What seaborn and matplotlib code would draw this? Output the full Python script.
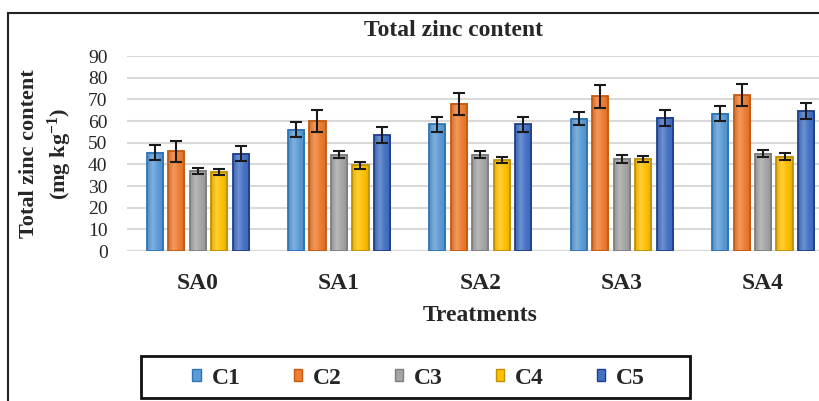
import numpy as np
import pandas as pd
import seaborn as sns
import matplotlib
matplotlib.use("Agg")
import matplotlib.pyplot as plt
from matplotlib.patches import Rectangle
from matplotlib.colors import LinearSegmentedColormap, to_rgb

# values
treatments = ["SA0", "SA1", "SA2", "SA3", "SA4"]
series = ["C1", "C2", "C3", "C4", "C5"]
c1 = [45.5, 56.0, 58.5, 61.0, 63.5]
c2 = [46.0, 60.0, 68.0, 71.5, 72.0]
c3 = [37.0, 44.5, 44.5, 42.5, 45.0]
c4 = [36.5, 39.5, 42.0, 42.5, 43.5]
c5 = [45.0, 53.5, 58.5, 61.5, 64.5]
c1_err = [3.3, 3.5, 3.5, 3.0, 3.3]
c2_err = [5.0, 5.2, 5.2, 5.3, 5.2]
c3_err = [1.5, 1.5, 1.7, 1.7, 1.7]
c4_err = [1.2, 1.4, 1.5, 1.5, 1.6]
c5_err = [3.6, 3.8, 3.6, 3.8, 3.7]

colors = ["#5B9BD5", "#ED7D31", "#A5A5A5", "#FFC000", "#4472C4"]
edges = ["#2E75B6", "#C55A11", "#7F7F7F", "#BF9000", "#203F8A"]

vals = [c1, c2, c3, c4, c5]
errs = [c1_err, c2_err, c3_err, c4_err, c5_err]
df = pd.DataFrame({
    "Treatment": np.tile(treatments, len(series)),
    "Series": np.repeat(series, len(treatments)),
    "Value": np.concatenate(vals),
})

sns.set_style("white")
plt.rcParams["font.family"] = ["Liberation Serif", "DejaVu Serif"]
plt.rcParams["mathtext.fontset"] = "custom"
plt.rcParams["mathtext.rm"] = "Liberation Serif:bold"
plt.rcParams["mathtext.default"] = "rm"

fig = plt.figure(figsize=(8.19, 4.01), dpi=100)
ax = fig.add_axes([0.155, 0.374, 0.863, 0.486])

sns.barplot(data=df, x="Treatment", y="Value", hue="Series", order=treatments,
            hue_order=series, palette=colors, saturation=1, width=0.76, gap=0.25,
            errorbar=None, ax=ax, legend=False, zorder=3)

bar_groups = list(ax.containers)
for i, cont in enumerate(bar_groups):
    base = np.array(to_rgb(colors[i]))
    light = base + (1 - base) * 0.22
    dark = base * 0.9
    cmap = LinearSegmentedColormap.from_list("g%d" % i, [dark, light, base, dark])
    grad = np.linspace(0, 1, 64).reshape(1, -1)
    xs = []
    for b in cont:
        x0, w, h = b.get_x(), b.get_width(), b.get_height()
        xs.append(x0 + w / 2)
        ax.imshow(grad, cmap=cmap, extent=(x0, x0 + w, 0, h), aspect="auto",
                  origin="lower", zorder=3.1, interpolation="bilinear")
        b.set_facecolor("none")
        b.set_edgecolor(edges[i])
        b.set_linewidth(1.3)
        b.set_zorder(3.2)
    ax.errorbar(xs, vals[i], yerr=errs[i], fmt="none", ecolor="#1a1a1a",
                elinewidth=1.5, capsize=4.5, capthick=1.5, zorder=4)

ax.set_xlim(-0.5, 4.5)
ax.set_ylim(0, 90)
ax.set_yticks(range(0, 91, 10))
ax.grid(axis="y", color="#D9D9D9", linewidth=1.5, zorder=0)
ax.grid(axis="x", visible=False)
sns.despine(ax=ax, left=True, bottom=True, top=True, right=True)
ax.axhline(0, color="#D9D9D9", linewidth=1.5, zorder=1)
ax.tick_params(axis="y", length=0, pad=14, labelsize=14)
ax.tick_params(axis="x", length=0, pad=16, labelsize=17)
for t in ax.get_xticklabels():
    t.set_fontweight("bold")

ax.set_xlabel("Treatments", fontsize=17, fontweight="bold", labelpad=8)
ax.set_ylabel("Total zinc content\n(mg kg$^{-1}$)", fontsize=16,
              fontweight="bold", labelpad=10, linespacing=1.35)

fig.text(0.554, 0.923, "Total zinc content", ha="center", va="center",
         fontsize=17, fontweight="bold")

# legend (box drawn separately, it has wide side padding)
handles = [Rectangle((0, 0), 1, 1, facecolor=colors[i], edgecolor=edges[i])
           for i in range(len(series))]
leg = fig.legend(handles, series, loc="center", ncol=5,
                 bbox_to_anchor=(0.511, 1 - 378 / 401), frameon=False,
                 fontsize=17, handlelength=0.36, handleheight=0.42,
                 handletextpad=0.45, columnspacing=2.25)
for t in leg.get_texts():
    t.set_fontweight("bold")
fig.patches.append(Rectangle((141 / 819, 1 - 398 / 401), 549 / 819, 42 / 401,
                             transform=fig.transFigure, fill=False,
                             edgecolor="#111111", linewidth=2.0))

# outer frame of the original chart area
fig.patches.append(Rectangle((8 / 819, -0.1), 1.2, 1 - 13 / 401 + 0.1,
                             transform=fig.transFigure, fill=False,
                             edgecolor="#222222", linewidth=1.5))

fig.savefig("out.png", dpi=100)
